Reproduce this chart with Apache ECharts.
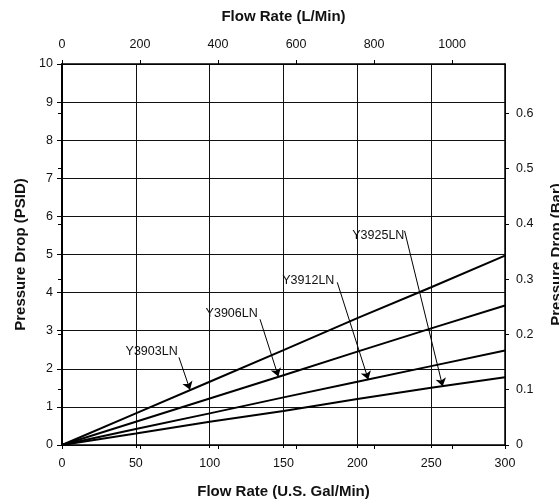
<!DOCTYPE html>
<html>
<head>
<meta charset="utf-8">
<script src="https://cdn.jsdelivr.net/npm/echarts@6/dist/echarts.min.js"></script>
<style>
html,body{margin:0;padding:0;background:#fff;}
#chart{width:559px;height:504px;}
</style>
</head>
<body>
<div id="chart"></div>
<script>
// ---- data ----
const flowGpm = [0, 50, 100, 150, 200, 250, 300];
const y3903 = [0, 0.83, 1.66, 2.49, 3.33, 4.14, 4.97];
const y3906 = [0, 0.61, 1.22, 1.83, 2.45, 3.06, 3.66];
const y3912 = [0, 0.42, 0.83, 1.25, 1.66, 2.07, 2.48];
const y3925 = [0, 0.30, 0.61, 0.89, 1.21, 1.50, 1.78];
const seriesNames = ['Y3903LN', 'Y3906LN', 'Y3912LN', 'Y3925LN'];
// annotation label positions and arrow (start -> end) in data units (gpm, psid)
const labelPos = [[60.7, 2.45], [114.9, 3.46], [166.8, 4.31], [214.2, 5.49]];
const arrowStart = [[79.2, 2.30], [134.1, 3.30], [186.4, 4.27], [232.0, 5.62]];
const arrowEnd = [[86.7, 1.45], [146.5, 1.80], [207.4, 1.72], [257.8, 1.54]];

const GPM_MAX = 300, PSI_MAX = 10;
const LPM_PER_GPM = 3.78541, BAR_PER_PSI = 0.0689476;

const BLACK = '#000';
const FONT = 'Liberation Sans, Arial, sans-serif';
const labelStyle = {color: '#111', fontSize: 12.5, fontFamily: FONT};
const nameStyle = {color: '#111', fontSize: 15, fontWeight: 'bold', fontFamily: FONT};

const allData = [y3903, y3906, y3912, y3925];
const series = allData.map((vals, i) => ({
  name: seriesNames[i],
  type: 'line',
  xAxisIndex: 0, yAxisIndex: 0,
  data: flowGpm.map((g, k) => [g, vals[k]]),
  showSymbol: false,
  lineStyle: {color: BLACK, width: 2},
  animation: false,
  z: 5,
  markLine: {
    silent: true,
    animation: false,
    symbol: ['none', 'arrow'],
    symbolSize: 8,
    itemStyle: {color: BLACK},
    lineStyle: {color: BLACK, width: 1, type: 'solid'},
    label: {show: false},
    data: [[{coord: arrowStart[i]}, {coord: arrowEnd[i]}]]
  },
  markPoint: {
    silent: true,
    animation: false,
    symbol: 'circle',
    symbolSize: 1,
    itemStyle: {color: 'rgba(0,0,0,0)'},
    label: {show: true, position: 'inside', formatter: '{b}', color: '#111', fontSize: 12.5, fontFamily: FONT},
    data: [{name: seriesNames[i], coord: labelPos[i]}]
  }
}));

const chart = echarts.init(document.getElementById('chart'), null, {renderer: 'canvas'});
chart.setOption({
  backgroundColor: '#fff',
  animation: false,
  grid: {left: 62, right: 54, top: 64, bottom: 59, containLabel: false, outerBoundsMode: 'none'},
  xAxis: [
    {
      type: 'value', position: 'bottom', min: 0, max: GPM_MAX, interval: 50,
      name: 'Flow Rate (U.S. Gal/Min)', nameLocation: 'middle', nameGap: 39, nameTextStyle: nameStyle,
      axisLine: {show: true, onZero: false, lineStyle: {color: BLACK, width: 1.5}},
      axisTick: {show: true, inside: false, length: 3, lineStyle: {color: BLACK}},
      axisLabel: Object.assign({margin: 12}, labelStyle),
      splitLine: {show: true, lineStyle: {color: '#111', width: 1}}
    },
    {
      type: 'value', position: 'top', min: 0, max: GPM_MAX * LPM_PER_GPM, interval: 200,
      name: 'Flow Rate (L/Min)', nameLocation: 'middle', nameGap: 40, nameTextStyle: nameStyle,
      axisLine: {show: true, onZero: false, lineStyle: {color: BLACK, width: 1.5}},
      axisTick: {show: true, inside: false, length: 4, lineStyle: {color: BLACK}},
      axisLabel: Object.assign({margin: 13, showMaxLabel: false, formatter: v => String(Math.round(v))}, labelStyle),
      splitLine: {show: false}
    },
    {
      type: 'value', position: 'top', min: 0, max: GPM_MAX * LPM_PER_GPM, interval: 200,
      axisLine: {show: false},
      axisTick: {show: true, inside: true, length: 4, lineStyle: {color: BLACK}},
      axisLabel: {show: false},
      splitLine: {show: false}
    }
  ],
  yAxis: [
    {
      type: 'value', position: 'left', min: 0, max: PSI_MAX, interval: 1,
      name: 'Pressure Drop (PSID)', nameLocation: 'middle', nameRotate: 90, nameGap: 34, nameTextStyle: nameStyle,
      axisLine: {show: true, onZero: false, lineStyle: {color: BLACK, width: 2}},
      axisTick: {show: true, inside: false, length: 5, lineStyle: {color: BLACK}},
      axisLabel: Object.assign({margin: 9}, labelStyle),
      splitLine: {show: true, lineStyle: {color: '#111', width: 1}}
    },
    {
      type: 'value', position: 'right', min: 0, max: PSI_MAX * BAR_PER_PSI, interval: 0.1,
      name: 'Pressure Drop (Bar)', nameLocation: 'middle', nameRotate: 90, nameGap: 44, nameTextStyle: nameStyle,
      axisLine: {show: true, onZero: false, lineStyle: {color: BLACK, width: 1.5}},
      axisTick: {show: true, inside: false, length: 4, lineStyle: {color: BLACK}},
      axisLabel: Object.assign({margin: 11, showMaxLabel: false, formatter: v => String(Math.round(v * 10) / 10)}, labelStyle),
      splitLine: {show: false}
    },
    {
      type: 'value', position: 'right', min: 0, max: PSI_MAX * BAR_PER_PSI, interval: 0.1,
      axisLine: {show: false},
      axisTick: {show: true, inside: true, length: 4, lineStyle: {color: BLACK}},
      axisLabel: {show: false},
      splitLine: {show: false}
    }
  ],
  series: series
});
</script>
</body>
</html>
